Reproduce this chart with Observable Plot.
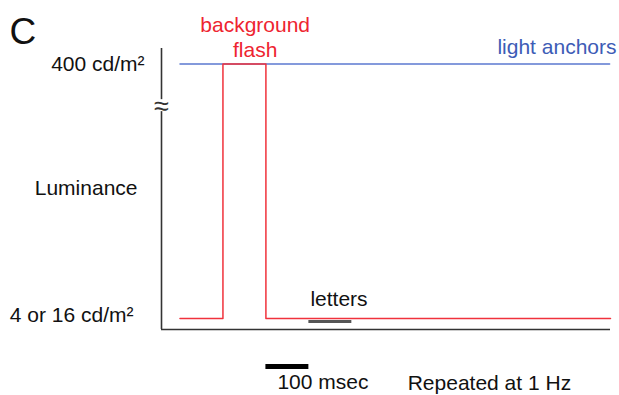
<!DOCTYPE html>
<html>
<head>
<meta charset="utf-8">
<script src="https://cdn.jsdelivr.net/npm/d3@7"></script>
<script src="https://cdn.jsdelivr.net/npm/@observablehq/plot@0.6"></script>
<style>
  html, body { margin: 0; padding: 0; background: #fff; }
  svg { display: block; }
</style>
</head>
<body>
<div id="chart"></div>
<script>
// Time in msec (flash onset = 0); luminance level: 0 = low (4 or 16 cd/m²), 1 = high (400 cd/m²)
const flashTimes  = [-100, 0, 0, 100, 100, 902];
const flashLevels = [0, 0, 1, 1, 0, 0];
const anchorTimes  = [-100, 900];
const anchorLevels = [1, 1];
const lettersWindow = [200, 300];
const scaleBar = [100, 200];
const yTickLevels = [0, 1];
const yTickLabels = ["4 or 16 cd/m²", "400 cd/m²"];
const xDomain = [-143, 902];
const yDomain = [-0.043, 1.061];
const axisBreak = [0.813, 0.860];

const flash = flashTimes.map((t, i) => ({t, level: flashLevels[i]}));
const anchors = anchorTimes.map((t, i) => ({t, level: anchorLevels[i]}));

const RED = "#f0323c", RED_TEXT = "#ee2430";
const BLUE = "#5b78d0", BLUE_TEXT = "#3d5cb6";
const AXIS = "#333";
const FONT = "'Liberation Sans', Arial, sans-serif";

const chart = Plot.plot({
  width: 619,
  height: 395,
  marginLeft: 161,
  marginRight: 9,
  marginTop: 48,
  marginBottom: 66,
  x: {domain: xDomain, axis: null},
  y: {domain: yDomain, axis: null},
  style: {fontFamily: FONT, fontSize: "21px", color: "#111", background: "#fff", overflow: "visible"},
  marks: [
    // axes
    Plot.ruleY([yDomain[0]], {stroke: AXIS, strokeWidth: 1.6}),
    Plot.ruleX([{y1: yDomain[0], y2: axisBreak[0]}, {y1: axisBreak[1], y2: yDomain[1]}],
      {x: () => xDomain[0], y1: "y1", y2: "y2", stroke: AXIS, strokeWidth: 1.6}),
    Plot.text(["≈"], {x: () => xDomain[0], y: () => (axisBreak[0] + axisBreak[1]) / 2,
      fontSize: 27, fill: AXIS, lineAnchor: "middle", dy: 1}),
    // y tick labels
    Plot.text([yTickLabels[1]], {x: () => xDomain[0], y: () => yTickLevels[1], text: d => d,
      textAnchor: "end", lineAnchor: "bottom", dx: -17, dy: 7, fill: "#111"}),
    Plot.text([yTickLabels[0]], {x: () => xDomain[0], y: () => yTickLevels[0], text: d => d,
      textAnchor: "end", lineAnchor: "bottom", dx: -28, dy: 3.5, fill: "#111"}),
    Plot.text(["Luminance"], {frameAnchor: "left", textAnchor: "end", lineAnchor: "bottom",
      dx: -24, dy: 5.5, fill: "#111"}),
    // panel letter
    Plot.text(["C"], {frameAnchor: "top-left", textAnchor: "start", lineAnchor: "bottom",
      dx: -152, dy: -5, fontSize: 37, fill: "#111"}),
    // letters presentation window
    Plot.ruleY([{x1: lettersWindow[0], x2: lettersWindow[1]}],
      {x1: "x1", x2: "x2", y: () => 0, dy: 3, stroke: "#555", strokeWidth: 3}),
    // light anchors (blue)
    Plot.line(anchors, {x: "t", y: "level", stroke: BLUE, strokeWidth: 1.5}),
    // background flash (red)
    Plot.line(flash, {x: "t", y: "level", stroke: RED, strokeWidth: 1.5}),
    // labels
    Plot.text(["background\nflash"], {x: () => 75, y: () => 1, lineAnchor: "bottom",
      lineHeight: 1.19, dy: -7, fill: RED_TEXT}),
    Plot.text(["light anchors"], {x: () => xDomain[1], y: () => 1, textAnchor: "end",
      lineAnchor: "bottom", dx: 6, dy: -10.5, fill: BLUE_TEXT}),
    Plot.text(["letters"], {x: () => lettersWindow[0], y: () => 0, textAnchor: "start",
      lineAnchor: "bottom", dx: 1.5, dy: -12.4, fill: "#111"}),
    // scale bar
    Plot.ruleY([{x1: scaleBar[0], x2: scaleBar[1]}],
      {x1: "x1", x2: "x2", y: () => yDomain[0], dy: 37, stroke: "#000", strokeWidth: 5}),
    Plot.text(["100 msec"], {x: () => scaleBar[0], y: () => yDomain[0], textAnchor: "start",
      lineAnchor: "bottom", dx: 11.5, dy: 59, fill: "#111"}),
    Plot.text(["Repeated at 1 Hz"], {x: () => 430, y: () => yDomain[0], textAnchor: "start",
      lineAnchor: "bottom", dy: 60, fill: "#111"})
  ]
});
document.getElementById("chart").appendChild(chart);
</script>
</body>
</html>
